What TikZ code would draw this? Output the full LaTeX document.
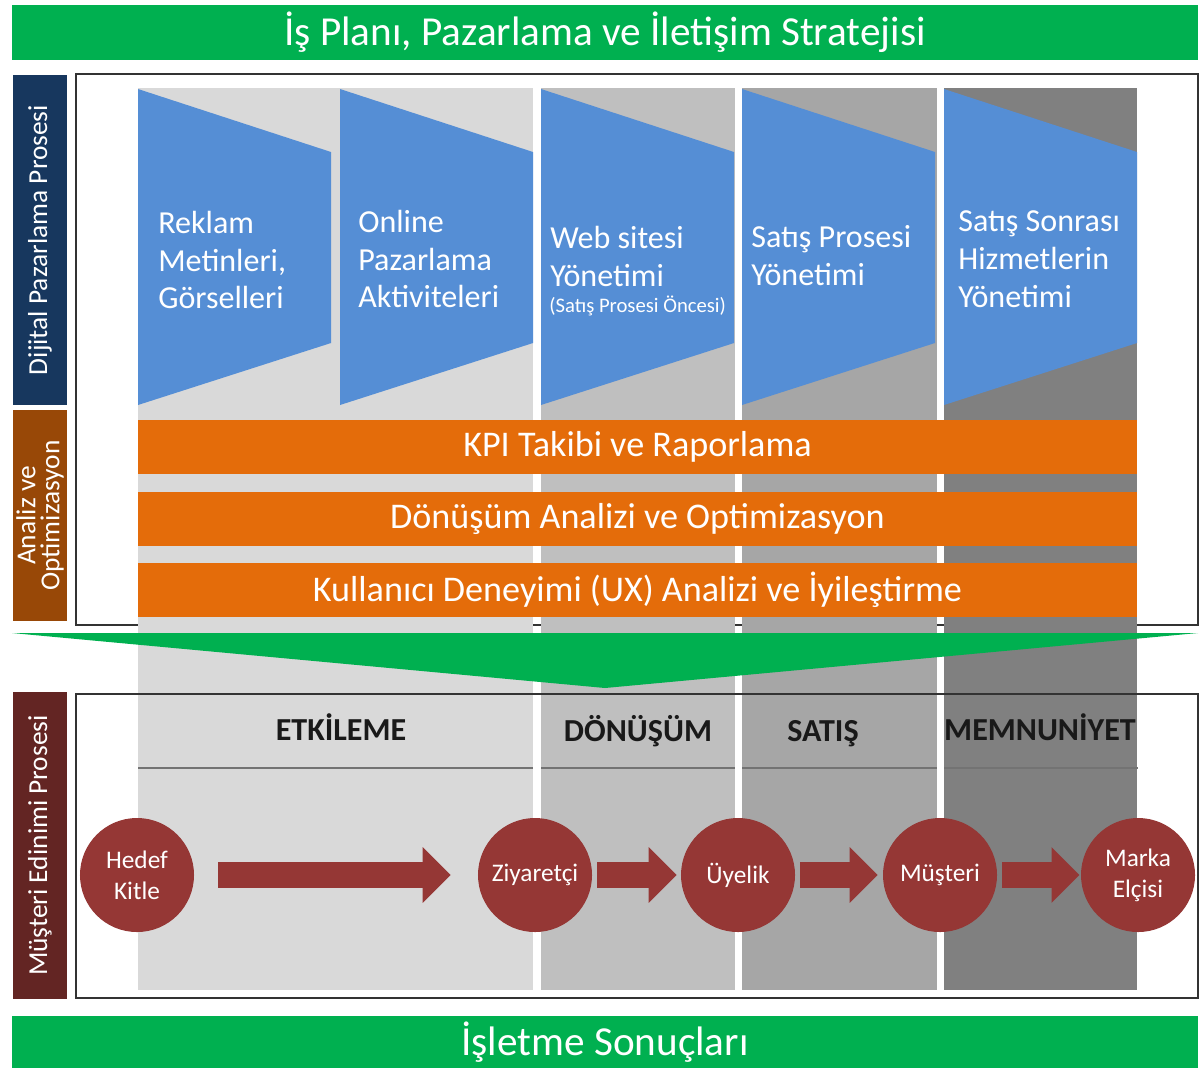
\documentclass[tikz,border=0pt]{standalone}
\usepackage{fontspec}
\setmainfont{Carlito}
\usetikzlibrary{arrows.meta}
\definecolor{grn}{HTML}{00B050}
\definecolor{dblue}{HTML}{17375E}
\definecolor{brn}{HTML}{984807}
\definecolor{dred}{HTML}{632523}
\definecolor{org}{HTML}{E46C0A}
\definecolor{blu}{HTML}{558ED5}
\definecolor{cred}{HTML}{953735}
\definecolor{gA}{HTML}{D9D9D9}
\definecolor{gB}{HTML}{BFBFBF}
\definecolor{gC}{HTML}{A6A6A6}
\definecolor{gD}{HTML}{808080}
\begin{document}
\begin{tikzpicture}[x=0.025cm,y=-0.025cm,
  bar/.style={fill=grn, text=white, inner sep=0, minimum width=29.65cm, font=\fontsize{29.3}{34}\selectfont},
  sidelbl/.style={rotate=90, text=white, inner sep=0, minimum height=1.35cm, align=center, font=\fontsize{19.5}{17}\selectfont},
  kpi/.style={fill=org, text=white, inner sep=0, minimum width=24.975cm, minimum height=1.35cm, font=\fontsize{25.7}{30}\selectfont},
  traptxt/.style={text=white, anchor=west, align=left, inner sep=0, font=\fontsize{22.8}{27}\selectfont},
  stage/.style={circle, fill=cred, text=white, minimum size=2.85cm, inner sep=0, align=center, font=\fontsize{18}{22}\selectfont},
  head/.style={anchor=base, font=\bfseries\fontsize{22.8}{26}\selectfont, text=black!90},
  frame/.style={draw=black!80, line width=1pt},
  sep/.style={draw=black!55, line width=0.8pt},
  flow/.style={draw=cred, line width=0.65cm, -{Triangle[length=0.7cm,width=1.35cm]}}
]
\useasboundingbox (0,0) rectangle (1200,1068);

% top and bottom bars
\node[bar, minimum height=1.375cm] (title) at (605,32.5) {İş Planı, Pazarlama ve İletişim Stratejisi};
\node[bar, minimum height=1.3cm] (result) at (605,1042) {İşletme Sonuçları};

% side labels
\node[sidelbl, fill=dblue, minimum width=8.25cm] (dijital) at (40,240) {Dijital Pazarlama Prosesi};
\node[sidelbl, fill=brn, minimum width=5.275cm] (analiz) at (40,515.5) {Analiz ve\\Optimizasyon};
\node[sidelbl, fill=dred, minimum width=7.675cm] (musteri) at (40,845.5) {Müşteri Edinimi Prosesi};

% upper frame
\draw[frame, fill=white] (76,74) rectangle (1198,625);
\fill[white] (76,694) rectangle (1198,998);

% gray columns
\fill[gA] (138,88) rectangle (533,990);
\fill[gB] (541,88) rectangle (735,990);
\fill[gC] (742,88) rectangle (937,990);
\fill[gD] (944,88) rectangle (1137,990);

% lower frame
\draw[frame] (76,694) rectangle (1198,998);

% trapezoids
\foreach \x in {138,340,541,742,944}{
  \fill[blu] (\x,89) -- (\x+193,152) -- (\x+193,343) -- (\x,405) -- cycle;
}
\node[traptxt] (t1) at (158,260) {Reklam\\Metinleri,\\Görselleri};
\node[traptxt] (t2) at (358,259) {Online\\Pazarlama\\Aktiviteleri};
\node[traptxt] (t3) at (550,256) {Web sitesi\\Yönetimi};
\node[text=white, anchor=north west, inner sep=0, font=\fontsize{14.7}{16}\selectfont] (t3b) at (549,296) {(Satış Prosesi Öncesi)};
\node[traptxt] (t4) at (751,256) {Satış Prosesi\\Yönetimi};
\node[traptxt] (t5) at (958,259) {Satış Sonrası\\Hizmetlerin\\Yönetimi};

% orange bars
\node[kpi] (kpi1) at (637.5,446.5) {KPI Takibi ve Raporlama};
\node[kpi] (kpi2) at (637.5,519) {Dönüşüm Analizi ve Optimizasyon};
\node[kpi] (kpi3) at (637.5,589.5) {Kullanıcı Deneyimi (UX) Analizi ve İyileştirme};

% green chevron
\fill[grn] (12,633) -- (1198,633) -- (605,688) -- cycle;

% headings
\node[head] (h1) at (341,740) {ETKİLEME};
\node[head] (h2) at (638,741) {DÖNÜŞÜM};
\node[head] (h3) at (823,741) {SATIŞ};
\node[head] (h4) at (1040,740) {MEMNUNİYET};
\draw[sep] (138,768) -- (533,768);
\draw[sep] (541,768) -- (735,768);
\draw[sep] (742,768) -- (937,768);
\draw[sep] (944,768) -- (1138,768);

% stages
\node[stage] (s1) at (137,875) {Hedef\\Kitle};
\node[stage] (s2) at (535,875) {Ziyaretçi};
\node[stage] (s3) at (738,875) {Üyelik};
\node[stage] (s4) at (940,875) {Müşteri};
\node[stage] (s5) at (1138,875) {Marka\\Elçisi};

\draw[flow, shorten <=0.6cm, shorten >=0.675cm] (s1) -- (s2);
\draw[flow, shorten <=0.125cm, shorten >=0.1cm] (s2) -- (s3);
\draw[flow, shorten <=0.125cm, shorten >=0.125cm] (s3) -- (s4);
\draw[flow, shorten <=0.125cm, shorten >=0.03cm] (s4) -- (s5);
\end{tikzpicture}
\end{document}
